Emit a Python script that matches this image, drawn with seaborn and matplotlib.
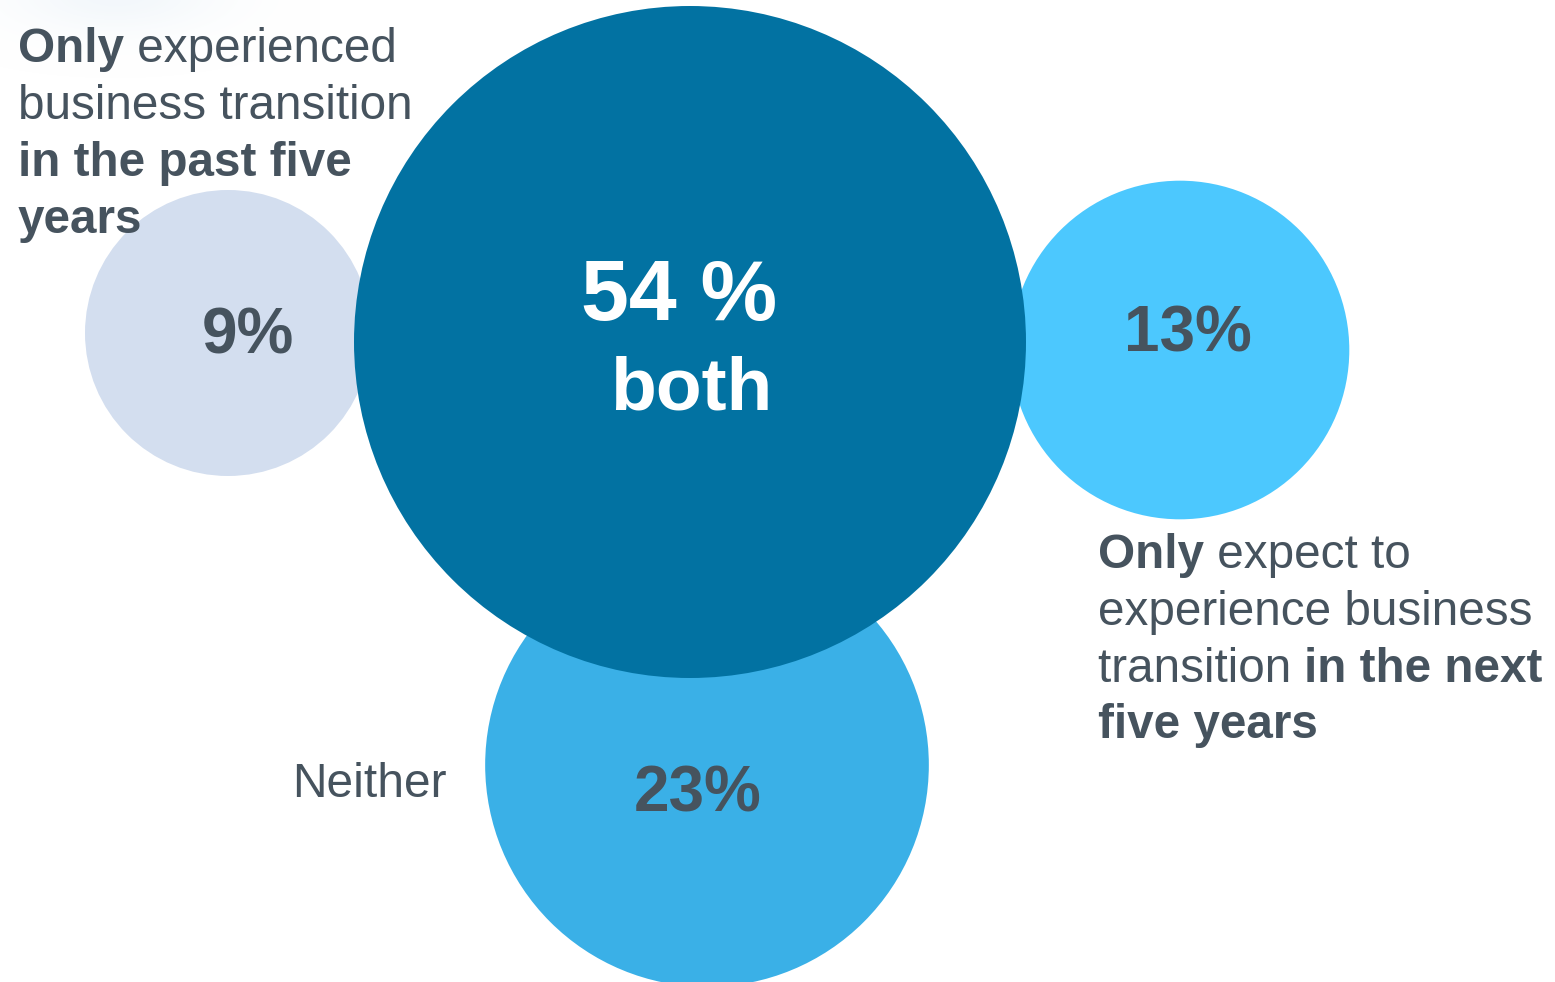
import matplotlib
matplotlib.use("Agg")
import matplotlib.pyplot as plt
import matplotlib.colors as mcolors
import numpy as np
import pandas as pd
import seaborn as sns

# Survey shares: business transition experienced in past / expected in next five years
segments = ["Only past five years", "Neither", "Only next five years", "Both"]
shares = [9, 23, 13, 54]
share_labels = ["9%", "23%", "13%", "54 %"]
bubble_colors = ["#D3DEEF", "#3AB0E7", "#4CC8FE", "#0272A2"]

# Bubble centres in canvas pixels
centre_x = [228, 707, 1180, 690]
centre_y = [333, 765, 350, 342]

W, H, DPI = 1555, 982, 100
TEXT = "#46535E"
R_SMALLEST, R_LARGEST = 143, 336  # radii (px) of the smallest / largest bubble

sns.set_theme(style="white")
plt.rcParams["font.family"] = ["Liberation Sans", "DejaVu Sans"]

fig = plt.figure(figsize=(W / DPI, H / DPI), dpi=DPI)
ax = fig.add_axes([0, 0, 1, 1])

# soft decorative glow in the top-left corner
gx, gy = np.meshgrid(np.arange(0, 320), np.arange(0, 90))
glow = 0.45 * np.exp(-((gx - 115) / 105.0) ** 2 - ((gy + 5) / 38.0) ** 2)
rgba = np.zeros(gx.shape + (4,))
rgba[..., :3] = mcolors.to_rgb("#E4EEF6")
rgba[..., 3] = glow
ax.imshow(rgba, extent=(0, 320, 90, 0), zorder=0, interpolation="bilinear")
ax.set_xlim(0, W)
ax.set_ylim(H, 0)
ax.set_axis_off()


def marker_area(r_px):
    """Scatter marker area (pt^2) for a circle of the given pixel radius."""
    return (2 * r_px * 72 / DPI) ** 2


df = pd.DataFrame({"segment": segments, "share": shares,
                   "x": centre_x, "y": centre_y})

# bubble area grows linearly with the share (seaborn's size normalisation)
sns.scatterplot(data=df, x="x", y="y", hue="segment", size="share",
                sizes=(marker_area(R_SMALLEST), marker_area(R_LARGEST)),
                palette=dict(zip(segments, bubble_colors)),
                linewidth=0, alpha=1, legend=False, ax=ax, zorder=2)
ax.set_xlim(0, W)
ax.set_ylim(H, 0)
ax.set_axis_off()

# percentage labels inside the bubbles
num_kw = dict(ha="center", va="baseline", fontweight="bold", zorder=5)
ax.text(248, 353, share_labels[0], fontsize=46, color=TEXT, **num_kw)
ax.text(698, 812, share_labels[1], fontsize=46, color=TEXT, **num_kw)
ax.text(1188, 352, share_labels[2], fontsize=46, color=TEXT, **num_kw)
ax.text(679, 320, share_labels[3], fontsize=62, color="white", **num_kw)
ax.text(691, 410, "both", fontsize=54, color="white", **num_kw)

ax.text(447, 797, "Neither", fontsize=34.5, color=TEXT, ha="right",
        va="baseline", zorder=5)


def rich_line(x, y, parts, size=34.3):
    """Draw one line made of (text, bold) runs, each following the last."""
    prev = None
    for s, bold in parts:
        w = "bold" if bold else "normal"
        if prev is None:
            prev = ax.text(x, y, s, fontsize=size, fontweight=w, color=TEXT,
                           ha="left", va="baseline", zorder=5)
        else:
            prev = ax.annotate(s, xy=(1, 0), xycoords=prev, fontsize=size,
                               fontweight=w, color=TEXT, ha="left",
                               va="bottom", zorder=5)


# caption for the past-five-years bubble
rich_line(18, 62, [("Only", True), (" experienced", False)])
rich_line(18, 119, [("business transition", False)])
rich_line(18, 176, [("in the past five", True)])
rich_line(18, 233, [("years", True)])

# caption for the next-five-years bubble
rich_line(1098, 568, [("Only", True), (" expect to", False)])
rich_line(1098, 625, [("experience business", False)])
rich_line(1098, 682, [("transition ", False), ("in the next", True)])
rich_line(1098, 738, [("five years", True)])

fig.savefig("out.png", dpi=DPI, facecolor="white")
